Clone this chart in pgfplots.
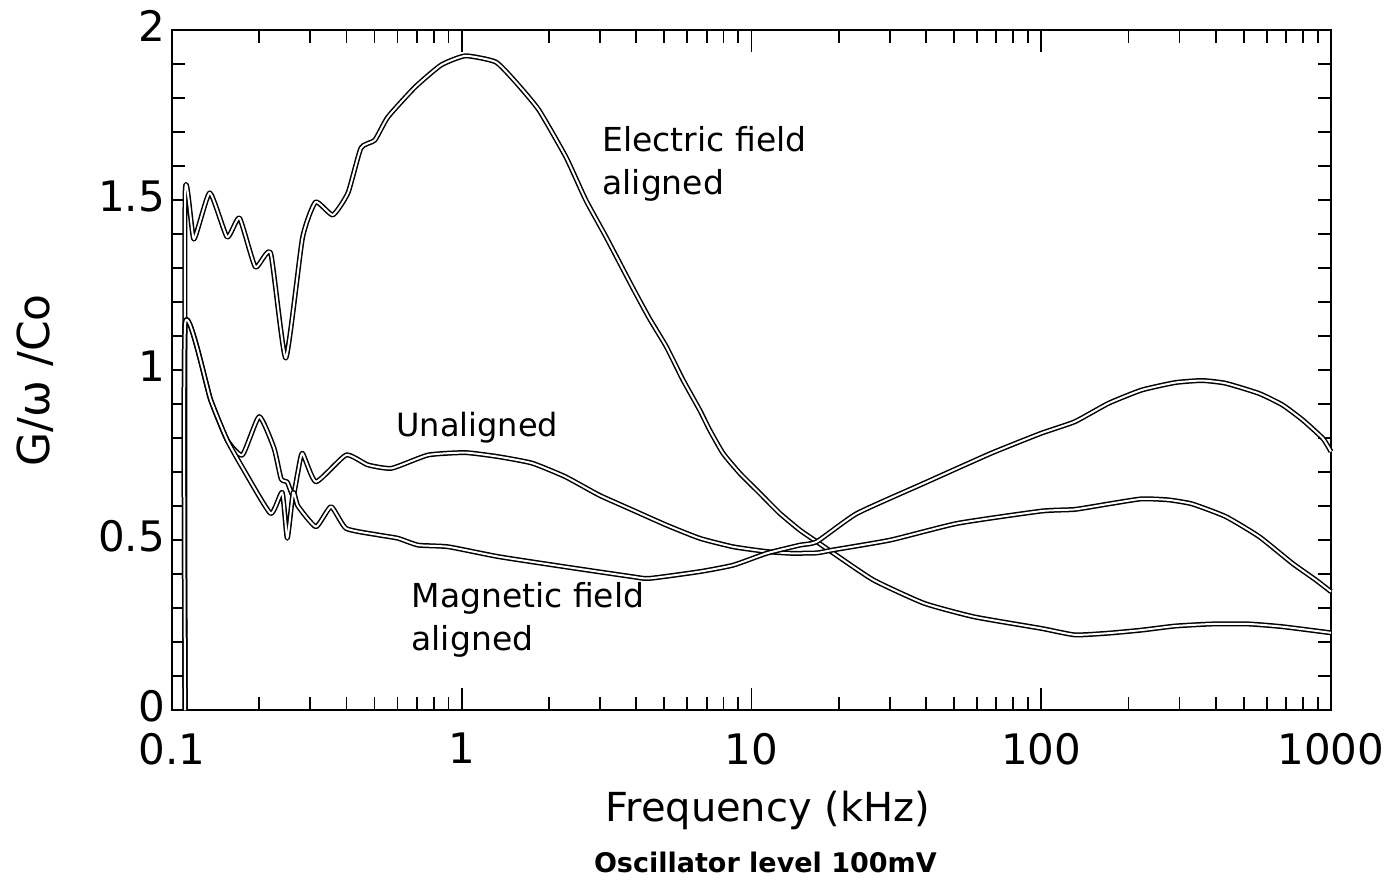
\documentclass[border=0pt]{standalone}
\usepackage{fontspec}
\setmainfont{DejaVu Sans}
\usepackage{pgfplots}
\pgfplotsset{compat=1.18}
\pgfplotstableread{
x y
0.111 0
0.111 1.515
0.119 1.385
0.135 1.521
0.155 1.391
0.171 1.447
0.194 1.303
0.219 1.344
0.247 1.035
0.282 1.388
0.313 1.494
0.359 1.456
0.405 1.521
0.449 1.653
0.501 1.676
0.556 1.744
0.690 1.832
0.849 1.897
1.03 1.924
1.31 1.906
1.535 1.847
1.845 1.765
2.29 1.626
2.68 1.500
3.15 1.391
3.88 1.244
4.44 1.152
5.08 1.069
5.80 0.971
6.63 0.882
7.17 0.824
7.98 0.755
9.12 0.696
10.7 0.637
12.5 0.579
14.7 0.529
16.8 0.495
19.2 0.461
26.4 0.382
39.4 0.314
58.7 0.274
100 0.240
130.6 0.221
170.6 0.226
222 0.235
290 0.247
389 0.253
521 0.253
681 0.245
1000 0.227
}\electric
\pgfplotstableread{
x y
0.111 0
0.111 1.135
0.136 0.912
0.155 0.794
0.177 0.706
0.219 0.578
0.240 0.640
0.250 0.505
0.262 0.640
0.272 0.600
0.314 0.539
0.354 0.598
0.399 0.534
0.514 0.515
0.603 0.505
0.707 0.485
0.899 0.480
1.34 0.451
2.28 0.421
3.89 0.392
4.44 0.387
6.63 0.407
8.65 0.426
11.3 0.461
14.7 0.485
16.8 0.495
23.1 0.578
39.4 0.667
67.1 0.755
100 0.814
130.6 0.848
170.6 0.902
222 0.941
290 0.963
359 0.969
433 0.961
565 0.931
681 0.897
799 0.853
937 0.799
1000 0.760
}\magnetic
\pgfplotstableread{
x y
0.111 0
0.111 1.135
0.136 0.912
0.155 0.794
0.175 0.750
0.200 0.863
0.225 0.770
0.238 0.680
0.250 0.670
0.262 0.630
0.272 0.700
0.282 0.755
0.314 0.671
0.399 0.750
0.474 0.721
0.573 0.711
0.766 0.750
1.03 0.757
1.34 0.745
1.75 0.726
2.28 0.686
2.98 0.632
3.89 0.588
5.08 0.544
6.63 0.505
8.65 0.480
11.3 0.466
13.6 0.461
16.8 0.462
19.2 0.471
30.2 0.500
51.4 0.549
100 0.585
130.6 0.590
170.6 0.606
222 0.621
275 0.618
332 0.606
433 0.569
565 0.510
737 0.431
888 0.382
1000 0.348
}\unaligned
\begin{document}
\begin{tikzpicture}
\path[use as bounding box] (-86pt,-89.5pt) rectangle (610.5pt,355pt);
\begin{axis}[
  at={(0pt,0pt)}, anchor=south west,
  scale only axis, width=579.5pt, height=340pt,
  xmode=log, xmin=0.1, xmax=1000, ymin=0, ymax=2,
  clip=false,
  tick align=inside,
  xtick={0.1,1,10,100,1000},
  xticklabels={0.1,1,10,100,1000},
  ytick={0,0.5,1,1.5,2},
  yticklabels={0,0.5,1,1.5,2},
  minor ytick={0.1,0.2,0.3,0.4,0.5,0.6,0.7,0.8,0.9,1.0,1.1,1.2,1.3,1.4,1.5,1.6,1.7,1.8,1.9},
  major y tick style={draw=none},
  major tick length=11pt, minor tick length=6.5pt,
  tick style={black, line width=0.9pt},
  axis line style={line width=1.3pt},
  /pgf/number format/assume math mode=true,
  tick label style={font=\fontsize{21}{25}\selectfont},
  xticklabel style={yshift=-8pt},
  yticklabel style={yshift=2pt},
  xlabel={Frequency (kHz)},
  xlabel style={font=\fontsize{20}{24}\selectfont, at={(axis description cs:0.514,-0.147)}, anchor=center},
  ylabel={G/ω /Co},
  ylabel style={font=\fontsize{22}{26}\selectfont, at={(axis description cs:-0.118,0.485)}, anchor=center},
  curve/.style={black, line width=0.75pt, double=white, double distance=1.0pt, line join=round, mark=none, smooth, tension=0.3},
]
\addplot[curve] table[x=x,y=y] {\electric};
\addplot[curve] table[x=x,y=y] {\unaligned};
\addplot[curve] table[x=x,y=y] {\magnetic};
\node[anchor=west, align=left, inner sep=0pt, font=\fontsize{16.5}{21.5}\selectfont] at (axis cs:3.05,1.605) {Electric field\\aligned};
\node[anchor=west, inner sep=0pt, font=\fontsize{16}{21.5}\selectfont] at (axis cs:0.593,0.829) {Unaligned};
\node[anchor=west, align=left, inner sep=0pt, font=\fontsize{16.5}{21.5}\selectfont] at (axis cs:0.669,0.266) {Magnetic field\\aligned};
\node[font=\bfseries\fontsize{13.5}{15}\selectfont] at (rel axis cs:0.512,-0.224) {Oscillator level 100mV};
\end{axis}
\end{tikzpicture}
\end{document}
